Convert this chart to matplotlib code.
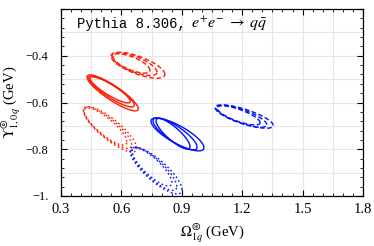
import numpy as np
import matplotlib
matplotlib.use("Agg")
import matplotlib.pyplot as plt
from matplotlib.ticker import MultipleLocator, FixedLocator

plt.rcParams['mathtext.fontset'] = 'stix'
plt.rcParams['font.family'] = ['Liberation Serif', 'DejaVu Serif']

# Ellipse groups: each ellipse given by centre (cx, cy), spreads (sx, sy) and correlation rho
red_solid_cx = [0.5565, 0.5505, 0.544]
red_solid_cy = [-0.559, -0.5525, -0.546]
red_solid_sx = [0.1275, 0.1135, 0.100]
red_solid_sy = [0.077, 0.0665, 0.056]
red_solid_rho = [-0.88, -0.88, -0.88]

red_dashed_cx = [0.682, 0.665, 0.650]
red_dashed_cy = [-0.4405, -0.436, -0.433]
red_dashed_sx = [0.134, 0.112, 0.092]
red_dashed_sy = [0.0555, 0.0488, 0.0413]
red_dashed_rho = [-0.70, -0.70, -0.70]

red_dotted_cx = [0.5435, 0.532, 0.521]
red_dotted_cy = [-0.7145, -0.708, -0.7025]
red_dotted_sx = [0.1325, 0.119, 0.106]
red_dotted_sy = [0.097, 0.088, 0.0795]
red_dotted_rho = [-0.83, -0.83, -0.83]

blue_solid_cx = [0.8785, 0.8665, 0.8565]
blue_solid_cy = [-0.7365, -0.7345, -0.7335]
blue_solid_sx = [0.1315, 0.1095, 0.0845]
blue_solid_sy = [0.0705, 0.0685, 0.0655]
blue_solid_rho = [-0.80, -0.82, -0.84]

blue_dashed_cx = [1.2095, 1.196, 1.182]
blue_dashed_cy = [-0.66, -0.659, -0.655]
blue_dashed_sx = [0.1445, 0.126, 0.107]
blue_dashed_sy = [0.05, 0.047, 0.041]
blue_dashed_rho = [-0.76, -0.76, -0.76]

blue_dotted_cx = [0.772, 0.7615, 0.752]
blue_dotted_cy = [-0.8905, -0.884, -0.8755]
blue_dotted_sx = [0.129, 0.1135, 0.099]
blue_dotted_sy = [0.1005, 0.092, 0.0815]
blue_dotted_rho = [-0.82, -0.82, -0.82]

x_ticks = [0.3, 0.6, 0.9, 1.2, 1.5, 1.8]
x_ticklabels = ["0.3", "0.6", "0.9", "1.2", "1.5", "1.8"]
y_ticks = [-1.0, -0.8, -0.6, -0.4]
y_ticklabels = ["\u22121.", "\u22120.8", "\u22120.6", "\u22120.4"]

RED = "#ff1a00"
BLUE = "#0010ff"

fig = plt.figure(figsize=(3.74, 2.46), dpi=100)
ax = fig.add_axes([61/374, 50/246, 302/374, 187/246])

t = np.linspace(0, 2*np.pi, 400)

def draw_group(cx, cy, sx, sy, rho, color, ls):
    for a, b, c, d, r in zip(cx, cy, sx, sy, rho):
        x = a + c*np.cos(t)
        y = b + d*(r*np.cos(t) + np.sqrt(1 - r*r)*np.sin(t))
        ax.plot(x, y, color=color, lw=1.0, ls=ls, solid_capstyle='butt')

dash = (0, (3.4, 1.8))
dot = (0, (1.2, 1.9))
draw_group(red_dashed_cx, red_dashed_cy, red_dashed_sx, red_dashed_sy, red_dashed_rho, RED, dash)
draw_group(red_solid_cx, red_solid_cy, red_solid_sx, red_solid_sy, red_solid_rho, RED, '-')
draw_group(red_dotted_cx, red_dotted_cy, red_dotted_sx, red_dotted_sy, red_dotted_rho, RED, dot)
draw_group(blue_solid_cx, blue_solid_cy, blue_solid_sx, blue_solid_sy, blue_solid_rho, BLUE, '-')
draw_group(blue_dashed_cx, blue_dashed_cy, blue_dashed_sx, blue_dashed_sy, blue_dashed_rho, BLUE, dash)
draw_group(blue_dotted_cx, blue_dotted_cy, blue_dotted_sx, blue_dotted_sy, blue_dotted_rho, BLUE, dot)

ax.set_xlim(0.3, 1.8)
ax.set_ylim(-1.0, -0.2)

# grid
for gx in np.arange(0.45, 1.80, 0.15):
    ax.axvline(gx, color='#e6e6e6', lw=0.8, zorder=0)
for gy in np.arange(-0.9, -0.2, 0.1):
    ax.axhline(gy, color='#e6e6e6', lw=0.8, zorder=0)

ax.xaxis.set_major_locator(FixedLocator(x_ticks))
ax.set_xticklabels(x_ticklabels)
ax.xaxis.set_minor_locator(MultipleLocator(0.05))
ax.yaxis.set_major_locator(FixedLocator(y_ticks + [-0.2]))
ax.set_yticklabels(y_ticklabels + [""])
ax.yaxis.set_minor_locator(MultipleLocator(0.04))

ax.tick_params(which='both', direction='in', top=True, right=True, color='black')
ax.tick_params(which='major', length=4, width=0.8)
ax.tick_params(which='minor', length=2, width=0.6)
ax.tick_params(axis='x', labelsize=10.5, pad=5)
ax.tick_params(axis='y', labelsize=9, pad=9)
for s in ax.spines.values():
    s.set_linewidth(0.9)

fig.text(212/374, 1 - 233/246, r"$\Omega^{\circledast}_{1q}$ (GeV)", fontsize=10.5,
         ha='center', va='center')
fig.text(11/374, 1 - 102/246, r"$\Upsilon^{\circledcirc}_{1,0q}$ (GeV)", fontsize=10.5,
         ha='center', va='center', rotation=90)

ax.text(0.053, 0.92, "Pythia 8.306,", transform=ax.transAxes,
        family='Liberation Mono', fontsize=10, va='center', ha='left')
ax.text((191-61)/302, 0.92, r"$e^{+}e^{-}\;\rightarrow\;q\bar{q}$", transform=ax.transAxes,
        fontsize=11.5, va='center', ha='left')

fig.savefig("out.png", dpi=100)
